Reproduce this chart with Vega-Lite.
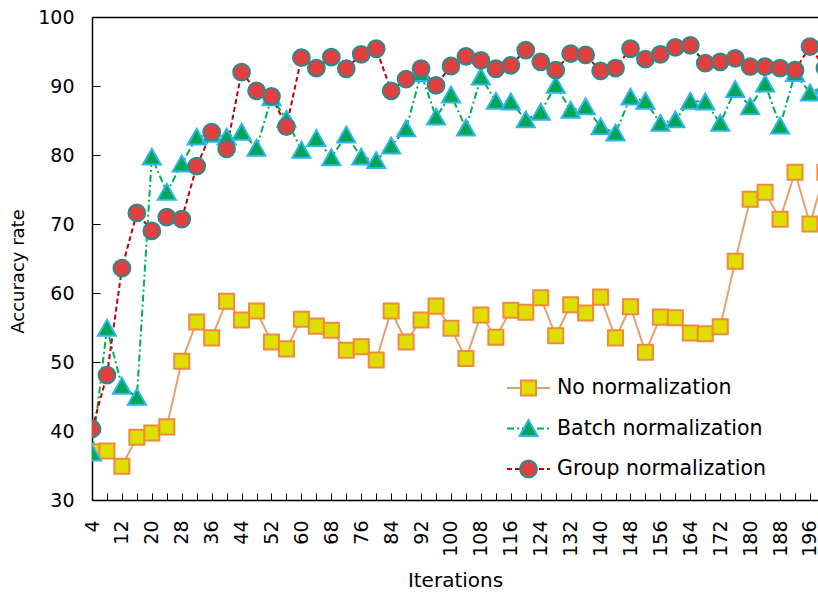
{
  "$schema": "https://vega.github.io/schema/vega-lite/v6.json",
  "width": 726,
  "height": 483,
  "autosize": {"type": "none"},
  "padding": {"left": 92, "top": 17, "right": 0, "bottom": 92},
  "background": "white",
  "config": {"view": {"stroke": null}, "font": "DejaVu Sans"},
  "datasets": {
    "acc": [
      {"iteration": 4, "series": "No normalization", "accuracy": 37.0},
      {"iteration": 8, "series": "No normalization", "accuracy": 37.1},
      {"iteration": 12, "series": "No normalization", "accuracy": 34.9},
      {"iteration": 16, "series": "No normalization", "accuracy": 39.1},
      {"iteration": 20, "series": "No normalization", "accuracy": 39.7},
      {"iteration": 24, "series": "No normalization", "accuracy": 40.6},
      {"iteration": 28, "series": "No normalization", "accuracy": 50.1},
      {"iteration": 32, "series": "No normalization", "accuracy": 55.8},
      {"iteration": 36, "series": "No normalization", "accuracy": 53.5},
      {"iteration": 40, "series": "No normalization", "accuracy": 58.8},
      {"iteration": 44, "series": "No normalization", "accuracy": 56.1},
      {"iteration": 48, "series": "No normalization", "accuracy": 57.4},
      {"iteration": 52, "series": "No normalization", "accuracy": 52.9},
      {"iteration": 56, "series": "No normalization", "accuracy": 51.9},
      {"iteration": 60, "series": "No normalization", "accuracy": 56.2},
      {"iteration": 64, "series": "No normalization", "accuracy": 55.2},
      {"iteration": 68, "series": "No normalization", "accuracy": 54.6},
      {"iteration": 72, "series": "No normalization", "accuracy": 51.7},
      {"iteration": 76, "series": "No normalization", "accuracy": 52.2},
      {"iteration": 80, "series": "No normalization", "accuracy": 50.3},
      {"iteration": 84, "series": "No normalization", "accuracy": 57.4},
      {"iteration": 88, "series": "No normalization", "accuracy": 52.9},
      {"iteration": 92, "series": "No normalization", "accuracy": 56.1},
      {"iteration": 96, "series": "No normalization", "accuracy": 58.1},
      {"iteration": 100, "series": "No normalization", "accuracy": 54.9},
      {"iteration": 104, "series": "No normalization", "accuracy": 50.5},
      {"iteration": 108, "series": "No normalization", "accuracy": 56.8},
      {"iteration": 112, "series": "No normalization", "accuracy": 53.6},
      {"iteration": 116, "series": "No normalization", "accuracy": 57.5},
      {"iteration": 120, "series": "No normalization", "accuracy": 57.2},
      {"iteration": 124, "series": "No normalization", "accuracy": 59.3},
      {"iteration": 128, "series": "No normalization", "accuracy": 53.8},
      {"iteration": 132, "series": "No normalization", "accuracy": 58.3},
      {"iteration": 136, "series": "No normalization", "accuracy": 57.1},
      {"iteration": 140, "series": "No normalization", "accuracy": 59.4},
      {"iteration": 144, "series": "No normalization", "accuracy": 53.5},
      {"iteration": 148, "series": "No normalization", "accuracy": 58.0},
      {"iteration": 152, "series": "No normalization", "accuracy": 51.4},
      {"iteration": 156, "series": "No normalization", "accuracy": 56.5},
      {"iteration": 160, "series": "No normalization", "accuracy": 56.4},
      {"iteration": 164, "series": "No normalization", "accuracy": 54.2},
      {"iteration": 168, "series": "No normalization", "accuracy": 54.1},
      {"iteration": 172, "series": "No normalization", "accuracy": 55.1},
      {"iteration": 176, "series": "No normalization", "accuracy": 64.6},
      {"iteration": 180, "series": "No normalization", "accuracy": 73.6},
      {"iteration": 184, "series": "No normalization", "accuracy": 74.6},
      {"iteration": 188, "series": "No normalization", "accuracy": 70.7},
      {"iteration": 192, "series": "No normalization", "accuracy": 77.5},
      {"iteration": 196, "series": "No normalization", "accuracy": 70.0},
      {"iteration": 200, "series": "No normalization", "accuracy": 77.5},
      {"iteration": 4, "series": "Batch normalization", "accuracy": 36.8},
      {"iteration": 8, "series": "Batch normalization", "accuracy": 54.9},
      {"iteration": 12, "series": "Batch normalization", "accuracy": 46.5},
      {"iteration": 16, "series": "Batch normalization", "accuracy": 44.9},
      {"iteration": 20, "series": "Batch normalization", "accuracy": 79.7},
      {"iteration": 24, "series": "Batch normalization", "accuracy": 74.6},
      {"iteration": 28, "series": "Batch normalization", "accuracy": 78.7},
      {"iteration": 32, "series": "Batch normalization", "accuracy": 82.6},
      {"iteration": 36, "series": "Batch normalization", "accuracy": 83.0},
      {"iteration": 40, "series": "Batch normalization", "accuracy": 82.6},
      {"iteration": 44, "series": "Batch normalization", "accuracy": 83.3},
      {"iteration": 48, "series": "Batch normalization", "accuracy": 81.0},
      {"iteration": 52, "series": "Batch normalization", "accuracy": 88.3},
      {"iteration": 56, "series": "Batch normalization", "accuracy": 85.2},
      {"iteration": 60, "series": "Batch normalization", "accuracy": 80.7},
      {"iteration": 64, "series": "Batch normalization", "accuracy": 82.4},
      {"iteration": 68, "series": "Batch normalization", "accuracy": 79.6},
      {"iteration": 72, "series": "Batch normalization", "accuracy": 82.9},
      {"iteration": 76, "series": "Batch normalization", "accuracy": 79.7},
      {"iteration": 80, "series": "Batch normalization", "accuracy": 79.2},
      {"iteration": 84, "series": "Batch normalization", "accuracy": 81.3},
      {"iteration": 88, "series": "Batch normalization", "accuracy": 83.8},
      {"iteration": 92, "series": "Batch normalization", "accuracy": 91.8},
      {"iteration": 96, "series": "Batch normalization", "accuracy": 85.5},
      {"iteration": 100, "series": "Batch normalization", "accuracy": 88.7},
      {"iteration": 104, "series": "Batch normalization", "accuracy": 83.9},
      {"iteration": 108, "series": "Batch normalization", "accuracy": 91.3},
      {"iteration": 112, "series": "Batch normalization", "accuracy": 87.8},
      {"iteration": 116, "series": "Batch normalization", "accuracy": 87.7},
      {"iteration": 120, "series": "Batch normalization", "accuracy": 85.1},
      {"iteration": 124, "series": "Batch normalization", "accuracy": 86.2},
      {"iteration": 128, "series": "Batch normalization", "accuracy": 90.1},
      {"iteration": 132, "series": "Batch normalization", "accuracy": 86.5},
      {"iteration": 136, "series": "Batch normalization", "accuracy": 87.0},
      {"iteration": 140, "series": "Batch normalization", "accuracy": 84.1},
      {"iteration": 144, "series": "Batch normalization", "accuracy": 83.2},
      {"iteration": 148, "series": "Batch normalization", "accuracy": 88.4},
      {"iteration": 152, "series": "Batch normalization", "accuracy": 87.8},
      {"iteration": 156, "series": "Batch normalization", "accuracy": 84.6},
      {"iteration": 160, "series": "Batch normalization", "accuracy": 85.1},
      {"iteration": 164, "series": "Batch normalization", "accuracy": 87.8},
      {"iteration": 168, "series": "Batch normalization", "accuracy": 87.7},
      {"iteration": 172, "series": "Batch normalization", "accuracy": 84.6},
      {"iteration": 176, "series": "Batch normalization", "accuracy": 89.5},
      {"iteration": 180, "series": "Batch normalization", "accuracy": 87.0},
      {"iteration": 184, "series": "Batch normalization", "accuracy": 90.3},
      {"iteration": 188, "series": "Batch normalization", "accuracy": 84.2},
      {"iteration": 192, "series": "Batch normalization", "accuracy": 91.8},
      {"iteration": 196, "series": "Batch normalization", "accuracy": 89.0},
      {"iteration": 200, "series": "Batch normalization", "accuracy": 90.0},
      {"iteration": 4, "series": "Group normalization", "accuracy": 40.3},
      {"iteration": 8, "series": "Group normalization", "accuracy": 48.1},
      {"iteration": 12, "series": "Group normalization", "accuracy": 63.6},
      {"iteration": 16, "series": "Group normalization", "accuracy": 71.6},
      {"iteration": 20, "series": "Group normalization", "accuracy": 69.0},
      {"iteration": 24, "series": "Group normalization", "accuracy": 71.0},
      {"iteration": 28, "series": "Group normalization", "accuracy": 70.7},
      {"iteration": 32, "series": "Group normalization", "accuracy": 78.4},
      {"iteration": 36, "series": "Group normalization", "accuracy": 83.3},
      {"iteration": 40, "series": "Group normalization", "accuracy": 80.9},
      {"iteration": 44, "series": "Group normalization", "accuracy": 92.0},
      {"iteration": 48, "series": "Group normalization", "accuracy": 89.3},
      {"iteration": 52, "series": "Group normalization", "accuracy": 88.5},
      {"iteration": 56, "series": "Group normalization", "accuracy": 84.1},
      {"iteration": 60, "series": "Group normalization", "accuracy": 94.1},
      {"iteration": 64, "series": "Group normalization", "accuracy": 92.6},
      {"iteration": 68, "series": "Group normalization", "accuracy": 94.2},
      {"iteration": 72, "series": "Group normalization", "accuracy": 92.5},
      {"iteration": 76, "series": "Group normalization", "accuracy": 94.6},
      {"iteration": 80, "series": "Group normalization", "accuracy": 95.4},
      {"iteration": 84, "series": "Group normalization", "accuracy": 89.3},
      {"iteration": 88, "series": "Group normalization", "accuracy": 91.0},
      {"iteration": 92, "series": "Group normalization", "accuracy": 92.5},
      {"iteration": 96, "series": "Group normalization", "accuracy": 90.1},
      {"iteration": 100, "series": "Group normalization", "accuracy": 92.9},
      {"iteration": 104, "series": "Group normalization", "accuracy": 94.3},
      {"iteration": 108, "series": "Group normalization", "accuracy": 93.7},
      {"iteration": 112, "series": "Group normalization", "accuracy": 92.5},
      {"iteration": 116, "series": "Group normalization", "accuracy": 93.0},
      {"iteration": 120, "series": "Group normalization", "accuracy": 95.2},
      {"iteration": 124, "series": "Group normalization", "accuracy": 93.5},
      {"iteration": 128, "series": "Group normalization", "accuracy": 92.3},
      {"iteration": 132, "series": "Group normalization", "accuracy": 94.7},
      {"iteration": 136, "series": "Group normalization", "accuracy": 94.5},
      {"iteration": 140, "series": "Group normalization", "accuracy": 92.2},
      {"iteration": 144, "series": "Group normalization", "accuracy": 92.6},
      {"iteration": 148, "series": "Group normalization", "accuracy": 95.4},
      {"iteration": 152, "series": "Group normalization", "accuracy": 93.9},
      {"iteration": 156, "series": "Group normalization", "accuracy": 94.6},
      {"iteration": 160, "series": "Group normalization", "accuracy": 95.6},
      {"iteration": 164, "series": "Group normalization", "accuracy": 95.9},
      {"iteration": 168, "series": "Group normalization", "accuracy": 93.3},
      {"iteration": 172, "series": "Group normalization", "accuracy": 93.5},
      {"iteration": 176, "series": "Group normalization", "accuracy": 94.0},
      {"iteration": 180, "series": "Group normalization", "accuracy": 92.8},
      {"iteration": 184, "series": "Group normalization", "accuracy": 92.8},
      {"iteration": 188, "series": "Group normalization", "accuracy": 92.6},
      {"iteration": 192, "series": "Group normalization", "accuracy": 92.3},
      {"iteration": 196, "series": "Group normalization", "accuracy": 95.7},
      {"iteration": 200, "series": "Group normalization", "accuracy": 92.6}
    ]
  },
  "data": {"name": "acc"},
  "encoding": {
    "y": {
      "field": "accuracy",
      "type": "quantitative",
      "scale": {"domain": [30, 100], "nice": false, "zero": false},
      "axis": {
        "values": [30, 40, 50, 60, 70, 80, 90, 100],
        "grid": false,
        "domainColor": "black",
        "domainWidth": 1.5,
        "tickColor": "black",
        "tickSize": -8,
        "tickWidth": 1,
        "labelFont": "DejaVu Sans",
        "labelFontSize": 19,
        "labelColor": "black",
        "labelPadding": 26,
        "title": "Accuracy rate",
        "titleFont": "DejaVu Sans",
        "titleFontSize": 18,
        "titleFontWeight": "normal",
        "titleColor": "black",
        "titlePadding": 10,
        "titleY": 254
      }
    }
  },
  "layer": [
    {
      "mark": {"type": "line", "strokeWidth": 2, "clip": true},
      "encoding": {
        "x": {
          "field": "iteration",
          "type": "quantitative",
          "scale": {"domain": [4, 198.14], "nice": false, "zero": false},
          "axis": {
            "orient": "bottom",
            "values": [4, 8, 12, 16, 20, 24, 28, 32, 36, 40, 44, 48, 52, 56, 60, 64, 68, 72, 76, 80, 84, 88, 92, 96, 100, 104, 108, 112, 116, 120, 124, 128, 132, 136, 140, 144, 148, 152, 156, 160, 164, 168, 172, 176, 180, 184, 188, 192, 196],
            "labelExpr": "(datum.value - 4) % 8 == 0 ? datum.label : ''",
            "labelAngle": 270,
            "labelOverlap": false,
            "labelBound": false,
            "labelFlush": false,
            "grid": false,
            "domainColor": "black",
            "domainWidth": 1.5,
            "tickColor": "black",
            "tickSize": -7,
            "tickWidth": 1,
            "labelFont": "DejaVu Sans",
            "labelFontSize": 19,
            "labelColor": "black",
            "labelPadding": 27,
            "title": "Iterations",
            "titleFont": "DejaVu Sans",
            "titleFontSize": 20,
            "titleFontWeight": "normal",
            "titleColor": "black",
            "titlePadding": 14
          }
        },
        "y": {"field": "accuracy", "type": "quantitative"},
        "stroke": {
          "field": "series",
          "type": "nominal",
          "scale": {"domain": ["No normalization", "Batch normalization", "Group normalization"], "range": ["#E6A070", "#00B050", "#C00000"]},
          "legend": {"orient": "none", "legendX": 414, "legendY": 351, "title": null, "padding": 0, "symbolType": "stroke", "symbolSize": 1849, "symbolStrokeWidth": 2, "labelOffset": 6, "clipHeight": 40, "rowPadding": 0.5, "labelFont": "DejaVu Sans", "labelFontSize": 20.5, "labelColor": "black", "labelLimit": 400}
        },
        "strokeDash": {
          "field": "series",
          "type": "nominal",
          "scale": {"domain": ["No normalization", "Batch normalization", "Group normalization"], "range": [[1, 0], [7, 3, 2, 3], [5, 3]]},
          "legend": {"orient": "none", "legendX": 414, "legendY": 351, "title": null, "padding": 0, "symbolType": "stroke", "symbolSize": 1849, "symbolStrokeWidth": 2, "labelOffset": 6, "clipHeight": 40, "rowPadding": 0.5, "labelFont": "DejaVu Sans", "labelFontSize": 20.5, "labelColor": "black", "labelLimit": 400}
        }
      }
    },
    {
      "mark": {"type": "point", "filled": true, "size": 1849, "strokeWidth": 2, "opacity": 1, "clip": true},
      "encoding": {
        "x": {
          "field": "iteration",
          "type": "quantitative",
          "scale": {"domain": [4, 198.14], "nice": false, "zero": false},
          "axis": {"orient": "top", "labels": false, "ticks": false, "title": null, "grid": false, "domainColor": "black", "domainWidth": 1.5}
        },
        "y": {"field": "accuracy", "type": "quantitative"},
        "shape": {
          "field": "series",
          "type": "nominal",
          "scale": {"domain": ["No normalization", "Batch normalization", "Group normalization"], "range": ["M-0.35,-0.35H0.35V0.35H-0.35Z", "M0,-0.39L0.42,0.35H-0.42Z", "M-0.39,0A0.39,0.39,0,1,1,0.39,0A0.39,0.39,0,1,1,-0.39,0Z"]},
          "legend": {"orient": "none", "legendX": 414, "legendY": 351, "title": null, "padding": 0, "symbolSize": 1849, "symbolStrokeWidth": 2, "symbolOpacity": 1, "labelOffset": 6, "clipHeight": 40, "rowPadding": 0.5, "labelFont": "DejaVu Sans", "labelFontSize": 20.5, "labelExpr": "''", "labelLimit": 400}
        },
        "fill": {
          "field": "series",
          "type": "nominal",
          "scale": {"domain": ["No normalization", "Batch normalization", "Group normalization"], "range": ["#DEDE00", "#00A651", "#E04040"]},
          "legend": {"orient": "none", "legendX": 414, "legendY": 351, "title": null, "padding": 0, "symbolSize": 1849, "symbolStrokeWidth": 2, "symbolOpacity": 1, "labelOffset": 6, "clipHeight": 40, "rowPadding": 0.5, "labelFont": "DejaVu Sans", "labelFontSize": 20.5, "labelExpr": "''", "labelLimit": 400}
        },
        "stroke": {
          "field": "series",
          "type": "nominal",
          "scale": {"domain": ["No normalization", "Batch normalization", "Group normalization"], "range": ["#F08A3C", "#2FB5EA", "#2E8A8A"]},
          "legend": {"orient": "none", "legendX": 414, "legendY": 351, "title": null, "padding": 0, "symbolSize": 1849, "symbolStrokeWidth": 2, "symbolOpacity": 1, "labelOffset": 6, "clipHeight": 40, "rowPadding": 0.5, "labelFont": "DejaVu Sans", "labelFontSize": 20.5, "labelExpr": "''", "labelLimit": 400}
        }
      }
    }
  ],
  "resolve": {
    "axis": {"x": "independent"},
    "scale": {"stroke": "independent", "strokeDash": "independent", "shape": "independent", "fill": "independent"}
  }
}
